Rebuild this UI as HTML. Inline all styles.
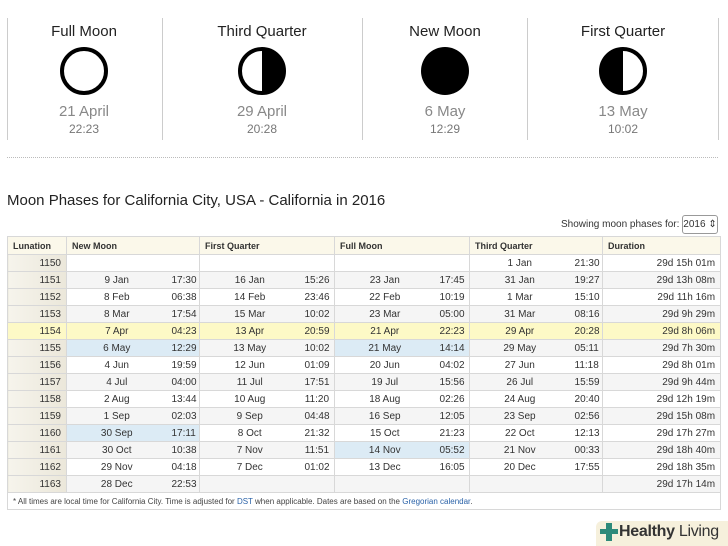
<!DOCTYPE html>
<html><head><meta charset="utf-8"><style>
body{margin:0;width:728px;height:546px;background:#fff;font-family:"Liberation Sans",Arial,sans-serif;position:relative;overflow:hidden}
.a{position:absolute}
.vl{position:absolute;top:18px;height:122px;width:1px;background:#ccc}
.card{position:absolute;top:0;width:180px;text-align:center}
.card .t{position:absolute;top:23px;width:100%;font-size:15px;color:#222}
.card .d{position:absolute;top:103px;width:100%;font-size:15px;color:#888}
.card .h{position:absolute;top:122px;width:100%;font-size:12px;color:#777}
.card svg{position:absolute;top:46px;left:65px}
table{position:absolute;left:7px;top:236px;border-collapse:collapse;table-layout:fixed;width:713px;font-size:10px;color:#333}
td,th{height:16px;padding:0 5px;border:1px solid #d8d8d8;white-space:nowrap;overflow:hidden}
th{font-weight:bold;text-align:left;background:#fbf8ea;font-size:9px;height:17px}
td{text-align:right}
td.dt{text-align:center;border-right:none}
td.tm{border-left:none}
td.ln{background:linear-gradient(to right,#f6f4ec,#ebe7da)}
tr.g td{background:#f5f5f5}
tr.g td.ln{background:linear-gradient(to right,#f6f4ec,#ebe7da)}
tr.y td{background:#fdf9c6}
td.b{background:#dcebf5!important}
td.foot{text-align:left;font-size:8px;color:#444;background:#fff;height:16px}
a{color:#2a62a8;text-decoration:none}
</style></head><body>
<div class="vl" style="left:7px"></div><div class="vl" style="left:162px"></div><div class="vl" style="left:362px"></div><div class="vl" style="left:527px"></div><div class="vl" style="left:718px"></div>
<div class="card" style="left:-6px"><div class="t">Full Moon</div><svg width="50" height="50"><circle cx="25" cy="25" r="22" fill="#fff" stroke="#000" stroke-width="4"/></svg><div class="d">21 April</div><div class="h">22:23</div></div>
<div class="card" style="left:172px"><div class="t">Third Quarter</div><svg width="50" height="50"><circle cx="25" cy="25" r="22" fill="#fff" stroke="#000" stroke-width="4"/><path d="M25 3 A22 22 0 0 1 25 47 Z" fill="#000"/></svg><div class="d">29 April</div><div class="h">20:28</div></div>
<div class="card" style="left:355px"><div class="t">New Moon</div><svg width="50" height="50"><circle cx="25" cy="25" r="24" fill="#000"/></svg><div class="d">6 May</div><div class="h">12:29</div></div>
<div class="card" style="left:533px"><div class="t">First Quarter</div><svg width="50" height="50"><circle cx="25" cy="25" r="22" fill="#fff" stroke="#000" stroke-width="4"/><path d="M25 3 A22 22 0 0 0 25 47 Z" fill="#000"/></svg><div class="d">13 May</div><div class="h">10:02</div></div>
<div class="a" style="left:7px;top:157px;width:711px;border-top:1px dotted #bbb"></div>
<div class="a" style="left:7px;top:192px;font-size:15px;color:#222">Moon Phases for California City, USA - California in 2016</div>
<div class="a" style="left:561px;top:219px;font-size:10px;color:#333">Showing moon phases for:</div>
<div class="a" style="left:682px;top:215px;width:34px;height:17px;border:1px solid #999;border-radius:3px;font-size:10px;line-height:17px;text-align:center;color:#333">2016 ⇕</div>
<table>
<colgroup><col style="width:59px"><col style="width:100px"><col style="width:33px"><col style="width:100px"><col style="width:35px"><col style="width:100px"><col style="width:35px"><col style="width:100px"><col style="width:33px"><col style="width:118px"></colgroup>
<tr><th>Lunation</th><th colspan="2">New Moon</th><th colspan="2">First Quarter</th><th colspan="2">Full Moon</th><th colspan="2">Third Quarter</th><th>Duration</th></tr>
<tr><td class="ln">1150</td><td class="dt"></td><td class="tm"></td><td class="dt"></td><td class="tm"></td><td class="dt"></td><td class="tm"></td><td class="dt">1 Jan</td><td class="tm">21:30</td><td>29d 15h 01m</td></tr>
<tr class="g"><td class="ln">1151</td><td class="dt">9 Jan</td><td class="tm">17:30</td><td class="dt">16 Jan</td><td class="tm">15:26</td><td class="dt">23 Jan</td><td class="tm">17:45</td><td class="dt">31 Jan</td><td class="tm">19:27</td><td>29d 13h 08m</td></tr>
<tr><td class="ln">1152</td><td class="dt">8 Feb</td><td class="tm">06:38</td><td class="dt">14 Feb</td><td class="tm">23:46</td><td class="dt">22 Feb</td><td class="tm">10:19</td><td class="dt">1 Mar</td><td class="tm">15:10</td><td>29d 11h 16m</td></tr>
<tr class="g"><td class="ln">1153</td><td class="dt">8 Mar</td><td class="tm">17:54</td><td class="dt">15 Mar</td><td class="tm">10:02</td><td class="dt">23 Mar</td><td class="tm">05:00</td><td class="dt">31 Mar</td><td class="tm">08:16</td><td>29d 9h 29m</td></tr>
<tr class="y"><td class="ln">1154</td><td class="dt">7 Apr</td><td class="tm">04:23</td><td class="dt">13 Apr</td><td class="tm">20:59</td><td class="dt">21 Apr</td><td class="tm">22:23</td><td class="dt">29 Apr</td><td class="tm">20:28</td><td>29d 8h 06m</td></tr>
<tr class="g"><td class="ln">1155</td><td class="dt b">6 May</td><td class="tm b">12:29</td><td class="dt">13 May</td><td class="tm">10:02</td><td class="dt b">21 May</td><td class="tm b">14:14</td><td class="dt">29 May</td><td class="tm">05:11</td><td>29d 7h 30m</td></tr>
<tr><td class="ln">1156</td><td class="dt">4 Jun</td><td class="tm">19:59</td><td class="dt">12 Jun</td><td class="tm">01:09</td><td class="dt">20 Jun</td><td class="tm">04:02</td><td class="dt">27 Jun</td><td class="tm">11:18</td><td>29d 8h 01m</td></tr>
<tr class="g"><td class="ln">1157</td><td class="dt">4 Jul</td><td class="tm">04:00</td><td class="dt">11 Jul</td><td class="tm">17:51</td><td class="dt">19 Jul</td><td class="tm">15:56</td><td class="dt">26 Jul</td><td class="tm">15:59</td><td>29d 9h 44m</td></tr>
<tr><td class="ln">1158</td><td class="dt">2 Aug</td><td class="tm">13:44</td><td class="dt">10 Aug</td><td class="tm">11:20</td><td class="dt">18 Aug</td><td class="tm">02:26</td><td class="dt">24 Aug</td><td class="tm">20:40</td><td>29d 12h 19m</td></tr>
<tr class="g"><td class="ln">1159</td><td class="dt">1 Sep</td><td class="tm">02:03</td><td class="dt">9 Sep</td><td class="tm">04:48</td><td class="dt">16 Sep</td><td class="tm">12:05</td><td class="dt">23 Sep</td><td class="tm">02:56</td><td>29d 15h 08m</td></tr>
<tr><td class="ln">1160</td><td class="dt b">30 Sep</td><td class="tm b">17:11</td><td class="dt">8 Oct</td><td class="tm">21:32</td><td class="dt">15 Oct</td><td class="tm">21:23</td><td class="dt">22 Oct</td><td class="tm">12:13</td><td>29d 17h 27m</td></tr>
<tr class="g"><td class="ln">1161</td><td class="dt">30 Oct</td><td class="tm">10:38</td><td class="dt">7 Nov</td><td class="tm">11:51</td><td class="dt b">14 Nov</td><td class="tm b">05:52</td><td class="dt">21 Nov</td><td class="tm">00:33</td><td>29d 18h 40m</td></tr>
<tr><td class="ln">1162</td><td class="dt">29 Nov</td><td class="tm">04:18</td><td class="dt">7 Dec</td><td class="tm">01:02</td><td class="dt">13 Dec</td><td class="tm">16:05</td><td class="dt">20 Dec</td><td class="tm">17:55</td><td>29d 18h 35m</td></tr>
<tr class="g"><td class="ln">1163</td><td class="dt">28 Dec</td><td class="tm">22:53</td><td class="dt"></td><td class="tm"></td><td class="dt"></td><td class="tm"></td><td class="dt"></td><td class="tm"></td><td>29d 17h 14m</td></tr>
<tr><td class="foot" colspan="10">* All times are local time for California City. Time is adjusted for <a>DST</a> when applicable. Dates are based on the <a>Gregorian calendar</a>.</td></tr>
</table>
<div class="a" style="left:596px;top:521px;width:132px;height:25px;background:#f6f0dc;border-radius:6px 0 0 0"></div>
<div class="a" style="left:600px;top:529px;width:18px;height:5px;background:#2e8a7a"></div>
<div class="a" style="left:606px;top:523px;width:6px;height:18px;background:#2e8a7a"></div>
<div class="a" style="left:619px;top:523px;font-size:16px;color:#333;white-space:nowrap;letter-spacing:-0.3px"><b>Healthy</b> Living</div>
</body></html>
